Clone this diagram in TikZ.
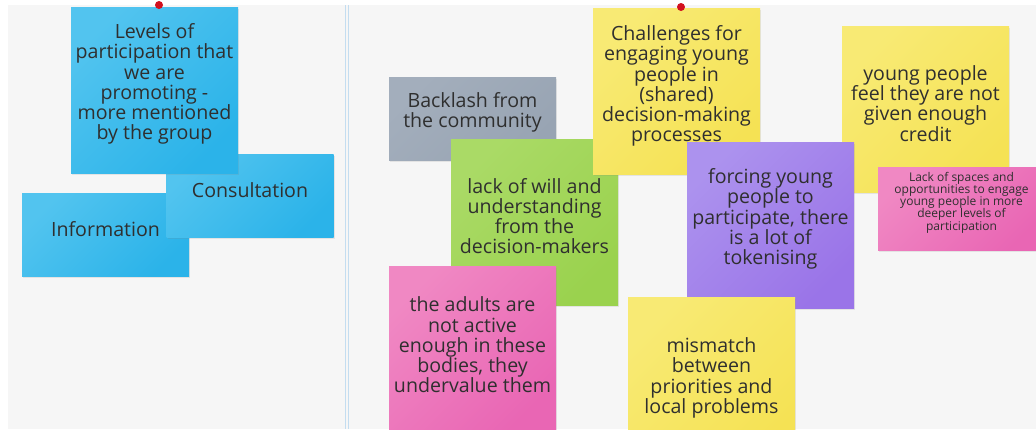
\documentclass[tikz,border=0pt]{standalone}
\usepackage{fontspec}
\setmainfont{Open Sans}
\usetikzlibrary{shadows}

\definecolor{board}{HTML}{F6F6F6}
\definecolor{frameline}{HTML}{C4DDF0}
\definecolor{inktext}{HTML}{2F2F2F}
\definecolor{pinred}{HTML}{D2101E}
\definecolor{blueA}{HTML}{52C4EF}
\definecolor{blueB}{HTML}{2BB3E9}
\definecolor{greyA}{HTML}{A3AEBC}
\definecolor{greyB}{HTML}{98A4B3}
\definecolor{greenA}{HTML}{AADA66}
\definecolor{greenB}{HTML}{9AD24E}
\definecolor{yellowA}{HTML}{F8EA74}
\definecolor{yellowB}{HTML}{F5E254}
\definecolor{purpleA}{HTML}{AC92EE}
\definecolor{purpleB}{HTML}{9A74E8}
\definecolor{pinkA}{HTML}{F088C3}
\definecolor{pinkB}{HTML}{E966B4}

\tikzset{
  sticky/.style={rectangle, inner sep=0pt, minimum width=167pt, minimum height=166pt,
    drop shadow={opacity=0.16, shadow xshift=1pt, shadow yshift=-1.5pt}},
  half/.style={minimum height=83pt},
  paper/.style 2 args={top color=#1, bottom color=#2, shading angle=45},
  words/.style={text=inktext, align=center, inner sep=0pt,
    font=\fontsize{19.6}{20.2}\selectfont},
  smallwords/.style={words, font=\fontsize{12}{12.2}\selectfont},
  pin/.style={circle, fill=pinred, inner sep=0pt, minimum size=8pt}
}

\begin{document}
\begin{tikzpicture}[x=1pt, y=1pt]
  \useasboundingbox (0,0) rectangle (1036,-429);
  \fill[white] (0,0) rectangle (1036,-429);
  \fill[board] (8,-5) rectangle (1036,-429);
  \draw[frameline, line width=0.8pt] (345,-5) -- (345,-429);
  \draw[frameline, line width=0.8pt] (348.5,-5) -- (348.5,-429);

  \begin{scope}
    \clip (8,-5) rectangle (1036,-429);
    % left frame
    \node[sticky, half, paper={blueA}{blueB}] (info) at (105.5,-235) {};
    \node[words] (info-t) at ([yshift=6]info.center) {Information};
    \node[sticky, half, paper={blueA}{blueB}] (consult) at (250,-196) {};
    \node[words] (consult-t) at ([yshift=6]consult.center) {Consultation};
    \node[sticky, paper={blueA}{blueB}] (levels) at (154.5,-90) {};
    \node[words] (levels-t) at ([yshift=6]levels.center)
      {Levels of\\participation that\\we are\\promoting -\\more mentioned\\by the group};

    % right frame
    \node[sticky, half, paper={greyA}{greyB}] (backlash) at (472.5,-118.5) {};
    \node[words] (backlash-t) at ([yshift=6]backlash.center) {Backlash from\\the community};
    \node[sticky, paper={greenA}{greenB}] (will) at (534.5,-222) {};
    \node[words] (will-t) at ([yshift=6]will.center)
      {lack of will and\\understanding\\from the\\decision-makers};
    \node[sticky, paper={yellowA}{yellowB}] (challenge) at (676.5,-91) {};
    \node[words] (challenge-t) at ([yshift=5]challenge.center)
      {Challenges for\\engaging young\\people in\\(shared)\\decision-making\\processes};
    \node[sticky, paper={pinkA}{pinkB}] (adults) at (472.5,-349) {};
    \node[words] (adults-t) at ([yshift=4]adults.center)
      {the adults are\\not active\\enough in these\\bodies, they\\undervalue them};
    \node[sticky, paper={yellowA}{yellowB}] (credit) at (925.5,-109.5) {};
    \node[words] (credit-t) at ([yshift=6]credit.center)
      {young people\\feel they are not\\given enough\\credit};
    \node[sticky, half, paper={pinkA}{pinkB}] (spaces) at (961.5,-208.5) {};
    \node[smallwords] (spaces-t) at ([yshift=6]spaces.center)
      {Lack of spaces and\\opportunities to engage\\young people in more\\deeper levels of\\participation};
    \node[sticky, paper={purpleA}{purpleB}] (forcing) at (770.5,-225) {};
    \node[words] (forcing-t) at ([yshift=6]forcing.center)
      {forcing young\\people to\\participate, there\\is a lot of\\tokenising};
    \node[sticky, paper={yellowA}{yellowB}] (mismatch) at (711.5,-380) {};
    \node[words] (mismatch-t) at ([yshift=2]mismatch.center)
      {mismatch\\between\\priorities and\\local problems};
  \end{scope}

  \node[pin] (pin-levels) at (159,-5) {};
  \node[pin] (pin-challenge) at (681,-7) {};
\end{tikzpicture}
\end{document}
